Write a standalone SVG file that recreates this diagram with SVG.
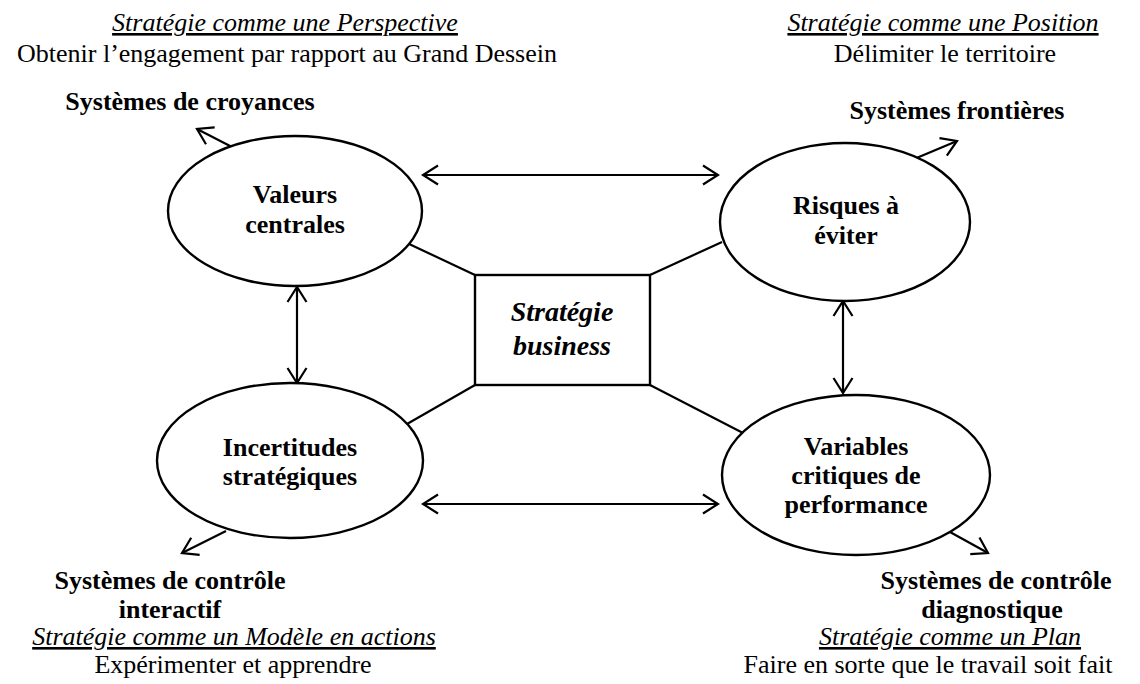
<svg xmlns="http://www.w3.org/2000/svg" width="1140" height="684" viewBox="0 0 1140 684">
<defs>
<style>
text{font-family:"Liberation Serif","Times New Roman",serif;fill:#000;text-anchor:middle}
.r{font-size:26px}
.i{font-size:26px;font-style:italic;text-decoration:underline}
.b{font-size:26px;font-weight:bold}
.bi{font-size:28px;font-weight:bold;font-style:italic}
.sh{fill:#fff;stroke:#000;stroke-width:2.4}
.ln{stroke:#000;stroke-width:2.2;fill:none}
.ar{stroke:#000;stroke-width:2.2;fill:none;marker-end:url(#ah)}
.ar2{stroke:#000;stroke-width:2.2;fill:none;marker-start:url(#ah);marker-end:url(#ah)}
</style>
<marker id="ah" viewBox="-18 -12 20 24" refX="0" refY="0" markerWidth="20" markerHeight="24" markerUnits="userSpaceOnUse" orient="auto-start-reverse">
<path d="M-15,-9.5 L0,0 L-15,9.5" fill="none" stroke="#000" stroke-width="2.2"/>
</marker>
</defs>
<rect width="1140" height="684" fill="#fff"/>

<g id="connectors">
<line class="ln" x1="407" y1="243" x2="475" y2="275"/>
<line class="ln" x1="722" y1="242" x2="650" y2="275"/>
<line class="ln" x1="407" y1="424" x2="475" y2="385"/>
<line class="ln" x1="743" y1="433" x2="650" y2="385"/>
<line class="ar2" x1="423" y1="175" x2="718" y2="175"/>
<line class="ar2" x1="423" y1="504" x2="718" y2="504"/>
<line class="ar2" x1="297" y1="287" x2="297" y2="383"/>
<line class="ar2" x1="843" y1="301" x2="843" y2="393"/>
<line class="ar" x1="232" y1="147" x2="197" y2="129"/>
<line class="ar" x1="907" y1="162" x2="957" y2="141"/>
<line class="ar" x1="226" y1="531" x2="182" y2="553"/>
<line class="ar" x1="950" y1="532" x2="988" y2="553"/>
</g>

<g id="node-strategie">
<rect class="sh" x="475" y="275" width="175" height="110"/>
<text class="bi" x="562" y="321">Stratégie</text>
<text class="bi" x="562" y="355">business</text>
</g>

<g id="node-valeurs">
<ellipse class="sh" cx="295" cy="211" rx="127" ry="75"/>
<text class="b" x="295" y="203">Valeurs</text>
<text class="b" x="295" y="233">centrales</text>
</g>

<g id="node-risques">
<ellipse class="sh" cx="845" cy="222" rx="125" ry="79"/>
<text class="b" x="846" y="214">Risques à</text>
<text class="b" x="846" y="244">éviter</text>
</g>

<g id="node-incertitudes">
<ellipse class="sh" cx="290" cy="460.5" rx="133" ry="77.5"/>
<text class="b" x="290" y="456">Incertitudes</text>
<text class="b" x="290" y="485">stratégiques</text>
</g>

<g id="node-variables">
<ellipse class="sh" cx="856" cy="475" rx="134" ry="80"/>
<text class="b" x="856" y="455">Variables</text>
<text class="b" x="856" y="484">critiques de</text>
<text class="b" x="856" y="513">performance</text>
</g>

<g id="label-perspective">
<text class="i" x="285" y="31">Stratégie comme une Perspective</text>
<text class="r" x="287" y="62">Obtenir l’engagement par rapport au Grand Dessein</text>
<text class="b" x="190" y="110">Systèmes de croyances</text>
</g>

<g id="label-position">
<text class="i" x="943" y="31">Stratégie comme une Position</text>
<text class="r" x="945" y="62">Délimiter le territoire</text>
<text class="b" x="957" y="119">Systèmes frontières</text>
</g>

<g id="label-modele">
<text class="b" x="170" y="589">Systèmes de contrôle</text>
<text class="b" x="170" y="618">interactif</text>
<text class="i" x="234" y="645">Stratégie comme un Modèle en actions</text>
<text class="r" x="233" y="673">Expérimenter et apprendre</text>
</g>

<g id="label-plan">
<text class="b" x="996" y="589">Systèmes de contrôle</text>
<text class="b" x="992" y="618">diagnostique</text>
<text class="i" x="950" y="645">Stratégie comme un Plan</text>
<text class="r" x="928" y="673">Faire en sorte que le travail soit fait</text>
</g>
</svg>
